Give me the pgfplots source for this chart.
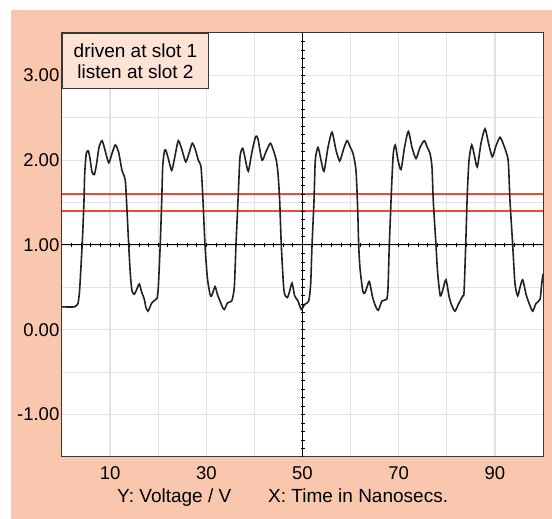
\documentclass[border=0pt]{standalone}
\usepackage{fontspec}
\setmainfont{Liberation Sans}
\usepackage{pgfplots}
\pgfplotsset{compat=1.18}

\definecolor{peach}{RGB}{249,198,174}
\definecolor{boxfill}{RGB}{253,226,214}
\definecolor{limitred}{RGB}{234,76,56}
\definecolor{gridgrey}{RGB}{226,226,226}
\definecolor{framegrey}{RGB}{55,55,55}
\definecolor{trace}{RGB}{34,34,34}

\newcommand\tickfont{\fontsize{18.5}{22}\selectfont}
\newcommand\labelfont{\fontsize{19}{21}\selectfont}

\begin{document}
\begin{tikzpicture}
% page = 552 x 519, axis box south west at (0,0)
\useasboundingbox (-62pt,-62pt) rectangle (490pt,457pt);
\fill[peach] (-51pt,-62pt) rectangle (490pt,447pt);

\begin{axis}[
  at={(0pt,0pt)}, anchor=south west,
  scale only axis,
  width=481pt, height=424pt,
  xmin=0, xmax=100,
  ymin=-1.5, ymax=3.5,
  xtick={10,20,...,90},
  xticklabels={10,,30,,50,,70,,90},
  ytick={-1,0,1,2,3},
  yticklabels={-1.00,0.00,1.00,2.00,3.00},
  minor ytick={-0.5,0.5,1.5,2.5},
  grid=both,
  major grid style={gridgrey, line width=1.2pt},
  minor grid style={gridgrey, line width=1.2pt},
  major tick length=0pt, minor tick length=0pt,
  axis line style={framegrey, line width=1pt},
  axis background/.style={fill=white},
  tick label style={font=\tickfont, inner sep=0pt},
  yticklabel style={anchor=east, xshift=-2.5pt},
  xticklabel style={anchor=north, yshift=-9.7pt},
]
% threshold lines
\addplot[limitred, line width=2.6pt] coordinates {(0,1.6) (100,1.6)};
\addplot[limitred, line width=2.6pt] coordinates {(0,1.4) (100,1.4)};

% centre axes with their small ticks
\addplot[black, line width=1pt] coordinates {(0,1) (100,1)};
\addplot[black, line width=1pt] coordinates {(50,-1.5) (50,3.5)};
\addplot[black, only marks, mark=|, mark size=1.6pt, mark options={line width=0.8pt}] coordinates {
  (2,1) (4,1) (6,1) (8,1) (10,1) (12,1) (14,1) (16,1) (18,1) (20,1)
  (22,1) (24,1) (26,1) (28,1) (30,1) (32,1) (34,1) (36,1) (38,1) (40,1)
  (42,1) (44,1) (46,1) (48,1) (52,1) (54,1) (56,1) (58,1) (60,1)
  (62,1) (64,1) (66,1) (68,1) (70,1) (72,1) (74,1) (76,1) (78,1) (80,1)
  (82,1) (84,1) (86,1) (88,1) (90,1) (92,1) (94,1) (96,1) (98,1)
};
\addplot[black, only marks, mark=-, mark size=2pt, mark options={line width=0.8pt}] coordinates {
  (50,-1.4) (50,-1.3) (50,-1.2) (50,-1.1) (50,-1.0) (50,-0.9) (50,-0.8) (50,-0.7) (50,-0.6) (50,-0.5)
  (50,-0.4) (50,-0.3) (50,-0.2) (50,-0.1) (50,0.0) (50,0.1) (50,0.2) (50,0.3) (50,0.4) (50,0.5)
  (50,0.6) (50,0.7) (50,0.8) (50,0.9) (50,1.1) (50,1.2) (50,1.3) (50,1.4) (50,1.5)
  (50,1.6) (50,1.7) (50,1.8) (50,1.9) (50,2.0) (50,2.1) (50,2.2) (50,2.3) (50,2.4) (50,2.5)
  (50,2.6) (50,2.7) (50,2.8) (50,2.9) (50,3.0) (50,3.1) (50,3.2) (50,3.3) (50,3.4)
};

% measured waveform
\addplot[trace, line width=1.6pt, smooth, tension=0.4] coordinates {
  (0,0.27) (2.6,0.27) (3.1,0.29) (3.33,0.31) (3.64,0.45) (4.01,0.81) (4.30,1.13)
  (4.57,1.52) (4.72,1.84) (5.05,2.08) (5.47,2.11) (5.82,2.02) (6.24,1.86) (6.72,1.83)
  (7.17,1.95) (7.69,2.15) (8.32,2.23) (8.94,2.12) (9.71,1.97) (10.40,2.08) (11.08,2.18)
  (11.75,2.10) (12.47,1.88) (13.16,1.76) (13.51,1.41) (13.86,1.01) (14.20,0.66)
  (14.55,0.46) (15.03,0.42) (15.49,0.47) (16.07,0.54) (16.53,0.45) (17.11,0.36)
  (17.46,0.26) (17.88,0.22) (18.30,0.27) (18.71,0.32) (19.33,0.35) (19.75,0.37)
  (20.02,0.50) (20.42,1.00) (20.73,1.52) (20.93,1.92) (21.27,2.10) (21.56,2.12)
  (22.10,2.02) (22.81,1.88) (23.49,2.05) (24.18,2.23) (24.95,2.12) (25.72,1.98)
  (26.40,2.08) (27.09,2.20) (27.75,2.12) (28.34,2.00) (28.90,1.92) (29.25,1.60)
  (29.73,1.00) (30.21,0.62) (30.77,0.42) (31.12,0.40) (31.81,0.51) (32.29,0.42)
  (32.85,0.34) (33.26,0.28) (33.74,0.24) (34.45,0.32) (35.28,0.34) (35.82,0.50)
  (36.17,1.00) (36.65,1.60) (37.01,2.04) (37.57,2.14) (38.15,2.00) (38.73,1.87)
  (39.50,2.10) (40.27,2.28) (40.75,2.25) (41.58,2.00) (42.41,2.10) (43.31,2.20)
  (43.93,2.12) (44.55,2.00) (44.91,1.84) (45.26,1.52) (45.59,1.00) (46.15,0.46)
  (46.84,0.38) (47.30,0.45) (47.82,0.55) (48.38,0.40) (49.06,0.34) (49.75,0.24)
  (50.46,0.30) (51.29,0.34) (51.70,0.54) (51.98,1.00) (52.39,1.52) (52.66,2.00)
  (53.22,2.15) (53.85,2.00) (54.47,1.87) (55.30,2.15) (56.13,2.33) (56.96,2.12)
  (57.73,1.99) (58.48,2.12) (59.25,2.23) (59.88,2.16) (60.50,2.08) (61.12,1.88)
  (61.48,1.41) (61.68,1.00) (61.95,0.73) (62.52,0.46) (62.90,0.43) (63.40,0.50)
  (63.89,0.57) (64.59,0.38) (65.18,0.28) (65.76,0.23) (66.53,0.34) (67.51,0.36)
  (67.78,0.50) (68.05,1.00) (68.55,1.72) (68.88,2.08) (69.29,2.18) (69.85,2.00)
  (70.48,1.89) (71.21,2.15) (72.00,2.34) (72.77,2.15) (73.60,2.02) (74.43,2.15)
  (75.32,2.23) (75.88,2.16) (76.51,2.08) (76.92,1.92) (77.19,1.52) (77.75,1.00)
  (78.11,0.66) (78.65,0.40) (79.21,0.48) (79.83,0.59) (80.52,0.38) (81.08,0.28)
  (81.70,0.22) (82.39,0.30) (83.31,0.40) (83.58,0.44) (83.93,1.00) (84.26,1.60)
  (84.62,2.00) (85.18,2.18) (85.76,2.05) (86.34,1.92) (87.11,2.20) (87.94,2.37)
  (88.67,2.20) (89.46,2.04) (90.23,2.17) (91.06,2.27) (91.68,2.20) (92.31,2.10)
  (92.79,1.98) (93.14,1.52) (93.70,1.00) (94.18,0.54) (94.74,0.40) (95.22,0.50)
  (95.78,0.59) (96.47,0.42) (97.19,0.30) (97.86,0.22) (98.54,0.31) (99.38,0.36)
  (99.73,0.54) (100,0.66)
};
\end{axis}

% note box in the upper left corner
\node[draw=framegrey, line width=1pt, fill=boxfill, anchor=north west,
      minimum width=146pt, minimum height=54.7pt, inner sep=0pt,
      align=center, font=\labelfont] at (0pt,424pt)
  {driven at slot 1\\listen at slot 2};

% axis caption line
\node[anchor=base west, inner sep=0pt, font=\labelfont] at (55pt,-45.7pt) {Y: Voltage / V};
\node[anchor=base west, inner sep=0pt, font=\labelfont] at (206pt,-45.7pt) {X: Time in Nanosecs.};
\end{tikzpicture}
\end{document}
